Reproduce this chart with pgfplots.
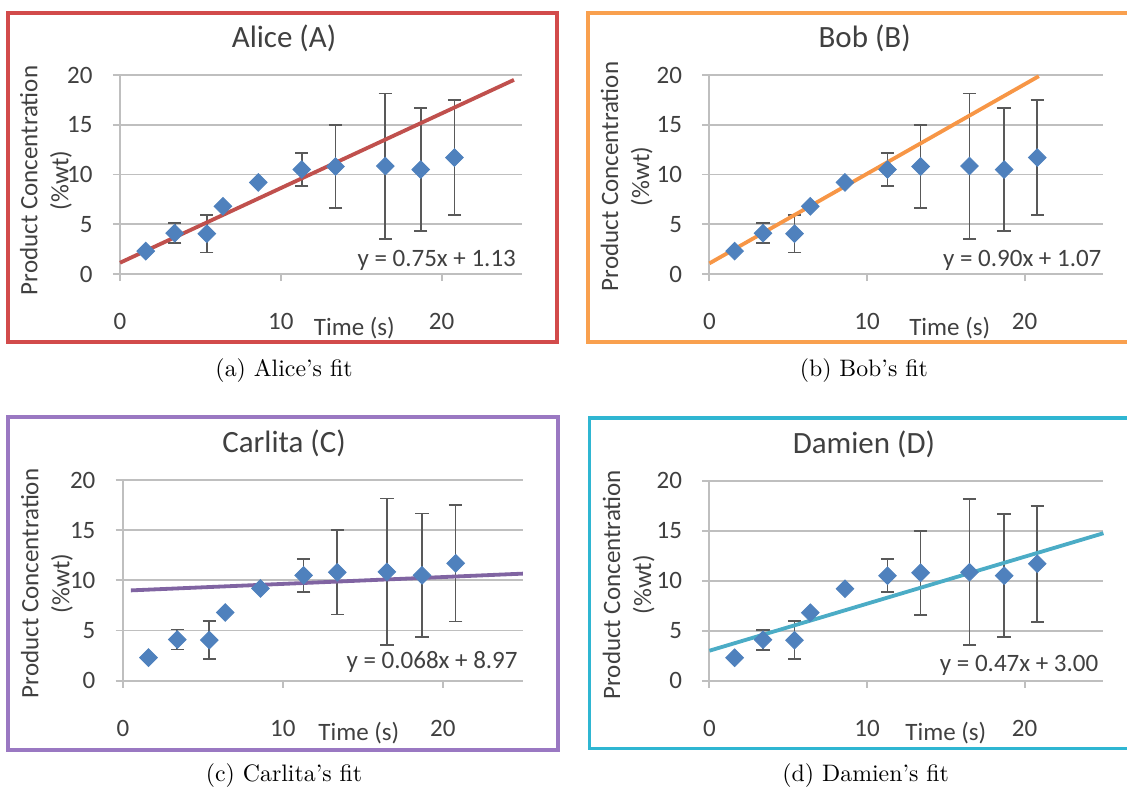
\documentclass[border=0pt]{standalone}
\usepackage{fontspec}
\usepackage{pgfplots}
\usepackage{pgfplotstable}
\pgfplotsset{compat=1.18}
\newfontfamily\calibri{Carlito}

\definecolor{ptblue}{HTML}{4F81BD}
\definecolor{fitA}{HTML}{C0504D}
\definecolor{fitB}{HTML}{F79646}
\definecolor{fitC}{HTML}{8064A2}
\definecolor{fitD}{HTML}{4BACC6}
\definecolor{frA}{HTML}{D24B4B}
\definecolor{frB}{HTML}{F9A04E}
\definecolor{frC}{HTML}{9A78C2}
\definecolor{frD}{HTML}{2FB6D2}
\definecolor{txt}{HTML}{404040}
\definecolor{gridc}{HTML}{BFBFBF}
\definecolor{errc}{HTML}{595959}

% time, concentration, error (same data in all four panels)
\pgfplotstableread{
t     c      e
1.6   2.3    0
3.4   4.1    1.0
5.4   4.05   1.9
6.4   6.8    0
8.6   9.2    0
11.3  10.5   1.65
13.4  10.8   4.2
16.5  10.85  7.3
18.7  10.5   6.15
20.8  11.7   5.8
}\conc

\tikzset{eqn/.style={font=\calibri\fontsize{10.5}{12}\selectfont, text=txt, inner sep=0pt}}

\pgfplotsset{
  excel/.style={
    scale only axis,
    anchor=south west,
    xmin=0, xmax=25, ymin=0, ymax=20,
    xtick={0,10,20}, ytick={0,5,10,15,20},
    axis lines=left,
    axis line style={-, draw=gridc, line width=0.8pt},
    ymajorgrids,
    major grid style={draw=gridc, line width=0.8pt},
    tick align=outside,
    major tick length=3pt,
    tick style={draw=gridc, line width=0.8pt},
    clip=false,
    /pgf/number format/assume math mode=true,
    tick label style={font=\calibri\fontsize{10.5}{12}\selectfont, text=txt},
    xticklabel style={yshift=-10pt},
    yticklabel style={xshift=-5pt},
    label style={font=\calibri\fontsize{10.5}{13}\selectfont, text=txt},
    xlabel={Time (s)},
    xlabel style={anchor=center},
    ylabel={Product Concentration\\(\%wt)},
    ylabel style={align=center, anchor=center},
    title style={anchor=center, font=\calibri\fontsize{13}{15}\selectfont, text=txt},
  },
  pts/.style={only marks, mark=square*, mark size=2.6pt,
    mark options={rotate=45, fill=ptblue, draw=ptblue},
    error bars/.cd, y dir=both, y explicit,
    error bar style={draw=errc, line width=0.7pt},
    error mark options={rotate=90, mark size=2.8pt, draw=errc, line width=0.7pt}},
}

\begin{document}
\begin{tikzpicture}
\useasboundingbox (0pt,0pt) rectangle (473.34pt,-330.96pt);

% frames
\draw[frA, line width=1.3pt] (3.36pt,-5.46pt) rectangle (233.94pt,-143.64pt);
\draw[frB, line width=1.3pt] (246.96pt,-5.46pt) rectangle (478pt,-143.64pt);
\draw[frC, line width=1.3pt] (3.36pt,-175.14pt) rectangle (234.36pt,-315pt);
\draw[frD, line width=1.3pt] (247.4pt,-175.56pt) rectangle (478pt,-314.2pt);

% (a)
\begin{axis}[excel, at={(50.4pt,-115.08pt)}, width=168.84pt, height=83.58pt,
  title={Alice (A)}, title style={at={(axis description cs:0.408,1.11)}},
  xlabel style={at={(axis description cs:0.583,-0.273)}},
  ylabel style={at={(axis description cs:-0.184,0.47)}}]
\addplot[pts] table[x=t, y=c, y error=e] {\conc};
\addplot[fitA, line width=1.6pt] coordinates {(0,1.13) (24.5,19.51)};
\node[eqn, anchor=east] at (axis cs:24.65,1.4) {y = 0.75x + 1.13};
\end{axis}

% (b)
\begin{axis}[excel, at={(297.95pt,-115.08pt)}, width=165.5pt, height=83.58pt,
  title={Bob (B)}, title style={at={(axis description cs:0.394,1.11)}},
  xlabel style={at={(axis description cs:0.61,-0.27)}},
  ylabel style={at={(axis description cs:-0.21,0.49)}}]
\addplot[pts] table[x=t, y=c, y error=e] {\conc};
\addplot[fitB, line width=1.6pt] coordinates {(0,1.07) (20.9,19.88)};
\node[eqn, anchor=east] at (axis cs:24.9,1.4) {y = 0.90x + 1.07};
\end{axis}

% (c)
\begin{axis}[excel, at={(51.6pt,-285.9pt)}, width=168pt, height=84.3pt,
  title={Carlita (C)}, title style={at={(axis description cs:0.403,1.11)}},
  xlabel style={at={(axis description cs:0.59,-0.262)}},
  ylabel style={at={(axis description cs:-0.19,0.485)}}]
\addplot[pts] table[x=t, y=c, y error=e] {\conc};
\addplot[fitC, line width=1.6pt] coordinates {(0.5,9.0) (25,10.67)};
\node[eqn, anchor=east] at (axis cs:24.7,1.9) {y = 0.068x + 8.97};
\end{axis}

% (d)
\begin{axis}[excel, at={(297.95pt,-285.9pt)}, width=165.5pt, height=84pt,
  title={Damien (D)}, title style={at={(axis description cs:0.392,1.113)}},
  xlabel style={at={(axis description cs:0.60,-0.263)}},
  ylabel style={at={(axis description cs:-0.205,0.48)}}]
\addplot[pts] table[x=t, y=c, y error=e] {\conc};
\addplot[fitD, line width=1.6pt] coordinates {(0,3.0) (25,14.75)};
\node[eqn, anchor=east] at (axis cs:24.7,1.57) {y = 0.47x + 3.00};
\end{axis}

% captions
\node at (119.28pt,-155.82pt) {(a) Alice's fit};
\node at (362.8pt,-155.82pt) {(b) Bob's fit};
\node at (119.3pt,-325.9pt) {(c) Carlita's fit};
\node at (363.6pt,-325.9pt) {(d) Damien's fit};
\end{tikzpicture}
\end{document}
